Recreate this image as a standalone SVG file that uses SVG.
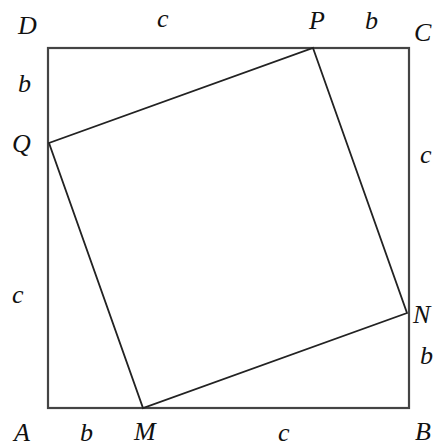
<svg xmlns="http://www.w3.org/2000/svg" width="445" height="446" viewBox="0 0 445 446">
<style>
.lbl{font-family:"Liberation Serif","DejaVu Serif",serif;font-style:italic;font-size:26px;fill:#111}
.outer{fill:none;stroke:#444;stroke-width:2.2}
.inner{fill:none;stroke:#222;stroke-width:1.8;stroke-linejoin:miter}
</style>
<rect width="445" height="446" fill="#fff"/>
<g id="outer-square"><rect class="outer" x="48" y="48" width="361" height="360"/></g>
<g id="inner-square"><polygon class="inner" points="313,48 407,313 143,408 49,143"/></g>
<g id="labels">
<text class="lbl" x="18" y="34">D</text>
<text class="lbl" x="157" y="27">c</text>
<text class="lbl" x="309" y="29">P</text>
<text class="lbl" x="365" y="29">b</text>
<text class="lbl" x="414" y="41">C</text>
<text class="lbl" x="18" y="92">b</text>
<text class="lbl" x="12" y="152">Q</text>
<text class="lbl" x="420" y="163">c</text>
<text class="lbl" x="12" y="303">c</text>
<text class="lbl" x="413" y="323">N</text>
<text class="lbl" x="420" y="364">b</text>
<text class="lbl" x="14" y="441">A</text>
<text class="lbl" x="80" y="441">b</text>
<text class="lbl" x="134" y="440">M</text>
<text class="lbl" x="278" y="441">c</text>
<text class="lbl" x="415" y="440">B</text>
</g>
</svg>
